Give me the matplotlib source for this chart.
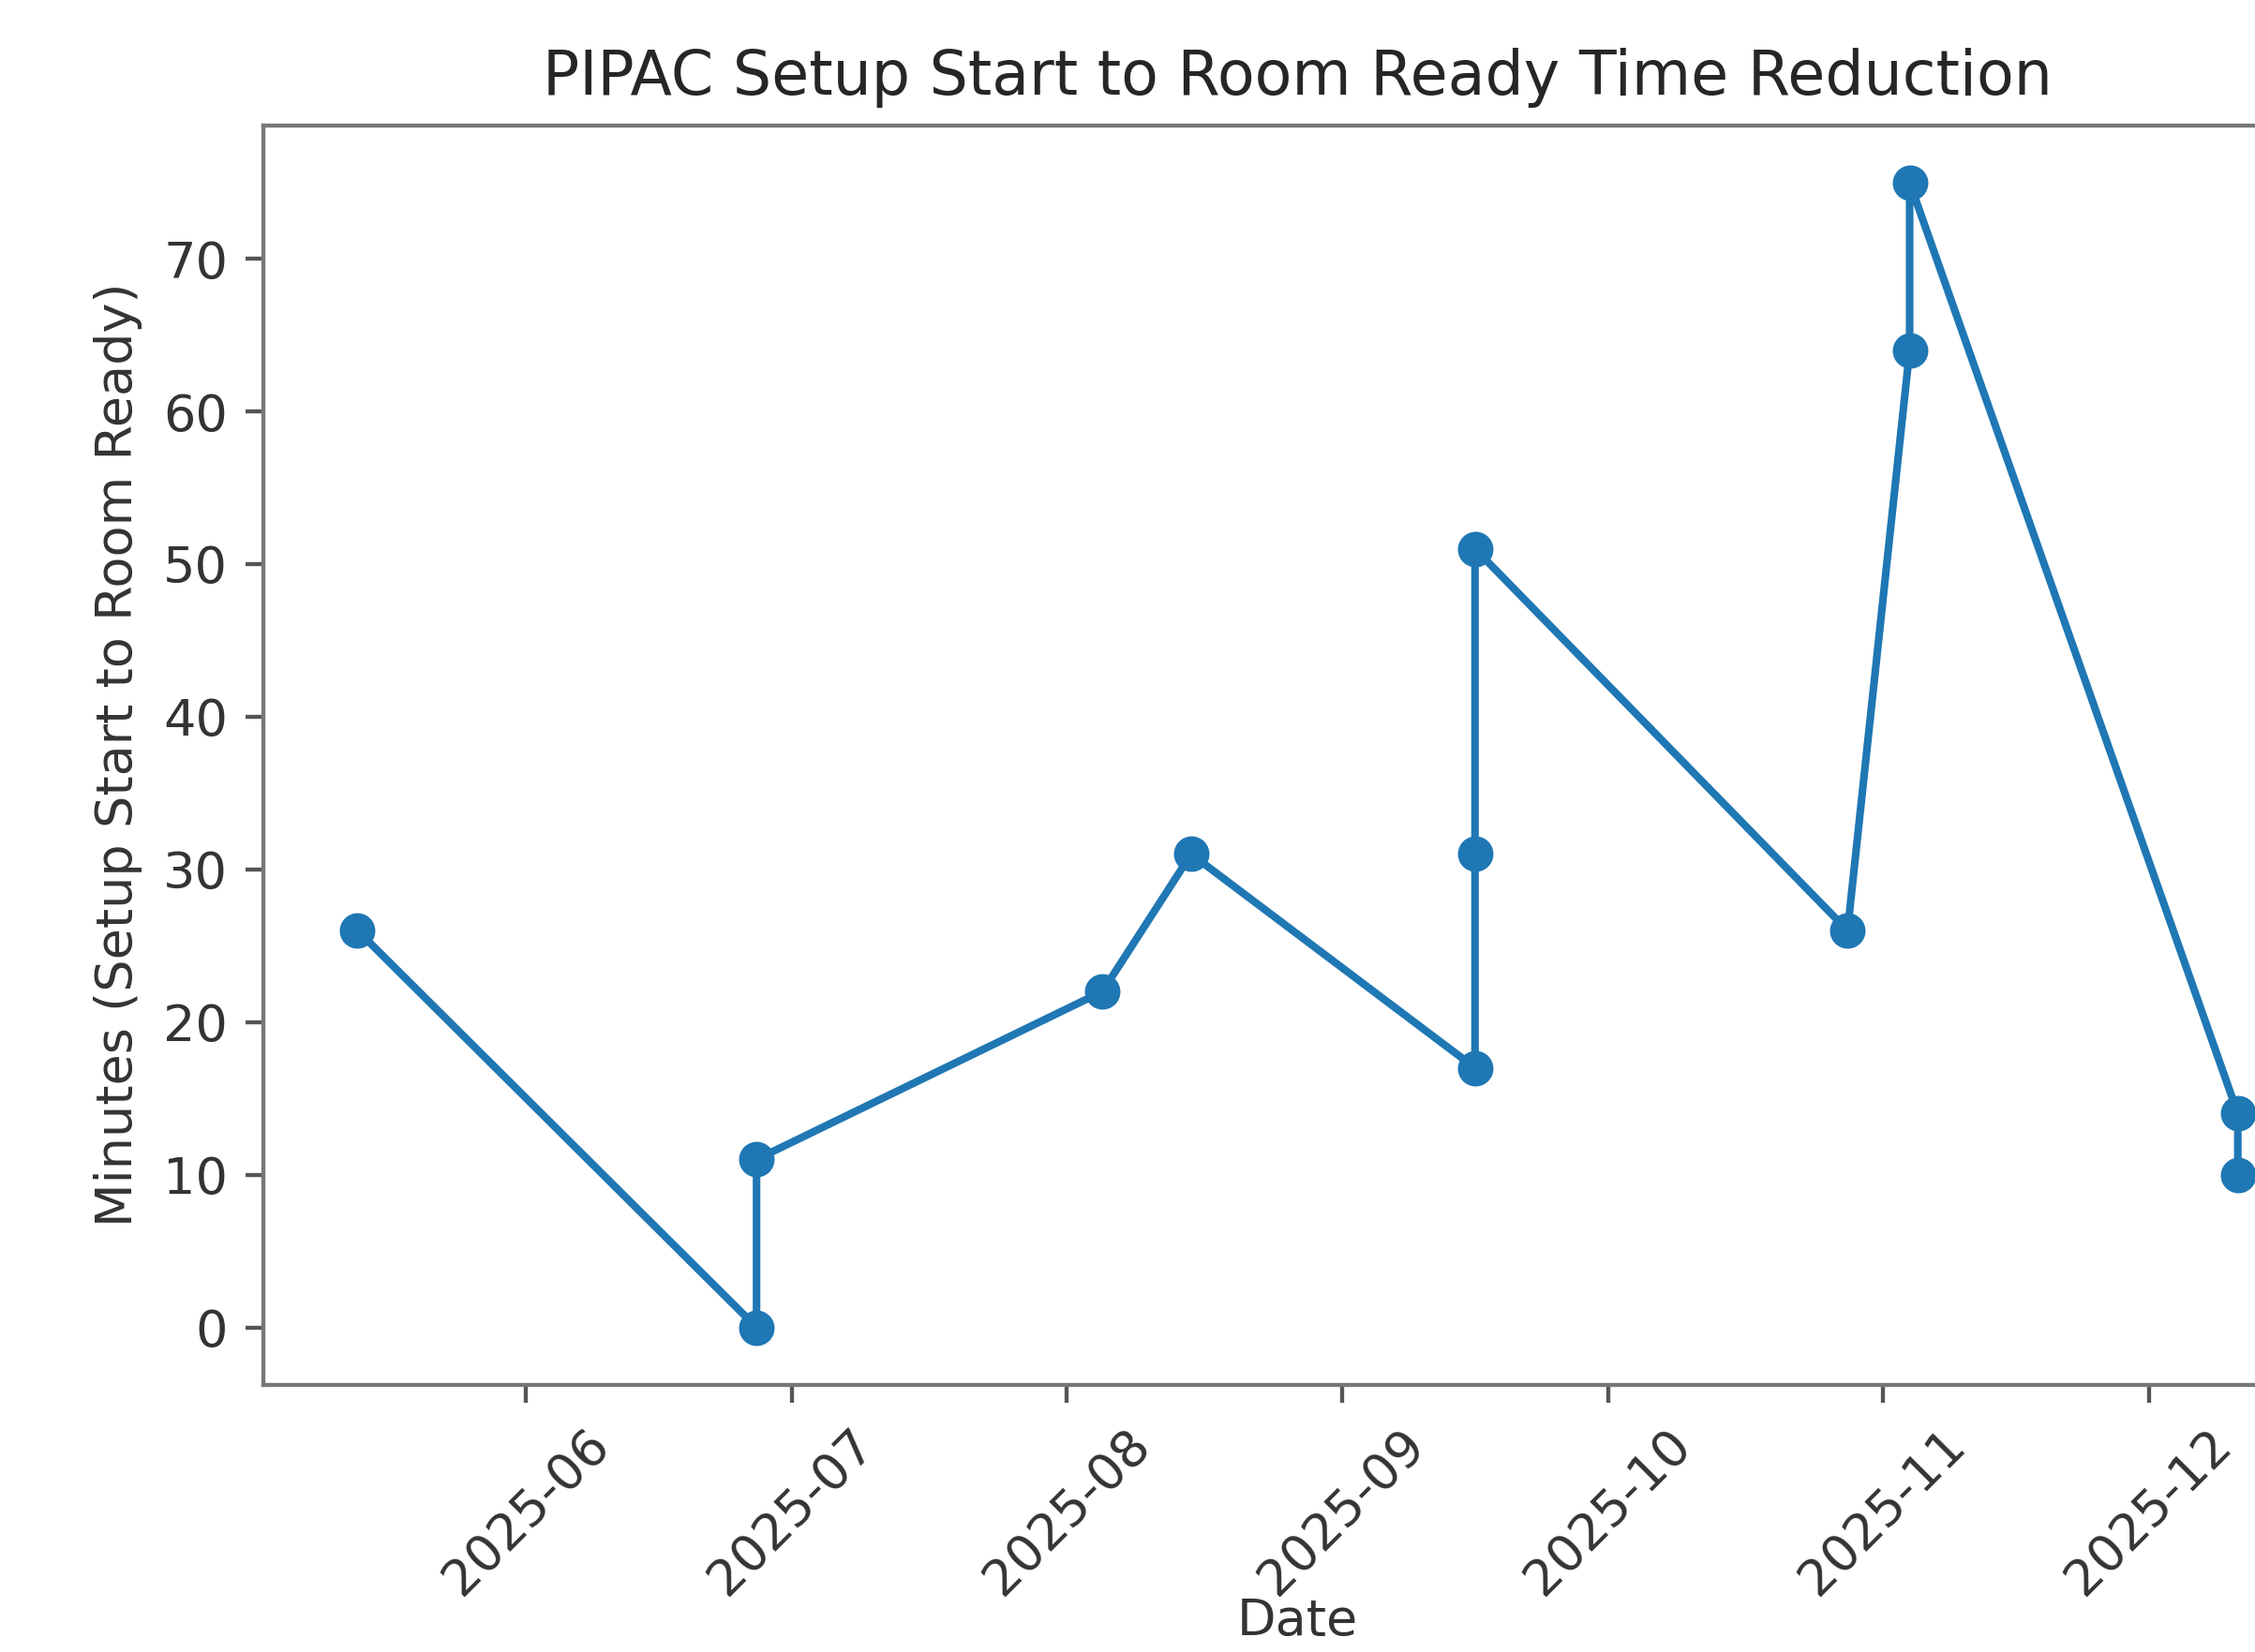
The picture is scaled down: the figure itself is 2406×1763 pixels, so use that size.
import matplotlib
matplotlib.use('Agg')
import matplotlib.pyplot as plt
import matplotlib.dates as mdates
import pandas as pd

# setup start -> room ready, minutes per case
dates = ['2025-05-13', '2025-06-27', '2025-06-27', '2025-08-05', '2025-08-15',
         '2025-09-16', '2025-09-16', '2025-09-16', '2025-10-28', '2025-11-04',
         '2025-11-04', '2025-12-11', '2025-12-11']
minutes = [26, 0, 11, 22, 31, 17, 31, 51, 26, 64, 75, 14, 10]

dates = pd.to_datetime(dates)

DPI = 390
fig = plt.figure(figsize=(2406 / DPI, 1763 / DPI), dpi=DPI)
# the reference is a crop: the axes run past the right edge of the picture
ax = fig.add_axes([281 / 2406, 1 - 1477.6 / 1763, 2207 / 2406, 1344 / 1763])

ax.plot(dates, minutes, marker='o', color='#1f77b4')
ax.set_title('PIPAC Setup Start to Room Ready Time Reduction', color='#262626')
ax.set_xlabel('Date', color='#333333', labelpad=-1.5)
ax.set_ylabel('Minutes (Setup Start to Room Ready)', color='#333333')

ax.xaxis.set_major_locator(mdates.MonthLocator())
ax.xaxis.set_major_formatter(mdates.DateFormatter('%Y-%m'))
plt.setp(ax.get_xticklabels(), rotation=45, color='#333333')
plt.setp(ax.get_yticklabels(), color='#333333')
ax.tick_params(colors='#555555', labelcolor='#333333')
for s in ax.spines.values():
    s.set_color('#777777')

fig.savefig('out.png', dpi=DPI)
